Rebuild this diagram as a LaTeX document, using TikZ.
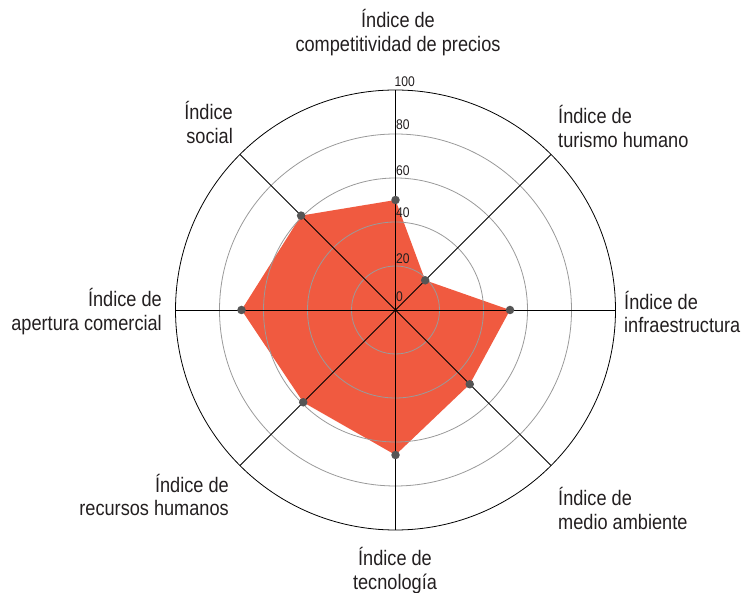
\documentclass[tikz,border=0pt]{standalone}
\usetikzlibrary{calc}
\usepackage{fontspec}
\setmainfont{Liberation Sans}[FakeStretch=0.865]
\definecolor{fillred}{HTML}{F05A40}
\definecolor{ringgray}{HTML}{9A9A9A}
\definecolor{dotgray}{HTML}{555555}
\definecolor{txt}{HTML}{231F20}
\begin{document}
\begin{tikzpicture}[x=1pt,y=1pt,
  axislabel/.style={font=\fontsize{21}{23.5}\selectfont, text=txt, inner sep=0pt},
  ticklabel/.style={font=\fontsize{14}{14}\selectfont, text=txt, inner sep=0pt, anchor=base west},
  ring/.style={draw=ringgray, line width=0.8pt},
  axisline/.style={draw=black, line width=0.8pt},
  datadot/.style={circle, fill=dotgray, inner sep=0pt, minimum size=8.5pt}]
\useasboundingbox (0,0) rectangle (742,592);
\coordinate (C) at (395.5,282);
% data polygon
\coordinate (v1) at ($(C)+(90:110)$);
\coordinate (v2) at ($(C)+(45:42)$);
\coordinate (v3) at ($(C)+(0:114.5)$);
\coordinate (v4) at ($(C)+(-45:105)$);
\coordinate (v5) at ($(C)+(-90:145)$);
\coordinate (v6) at ($(C)+(-135:130.5)$);
\coordinate (v7) at ($(C)+(180:154)$);
\coordinate (v8) at ($(C)+(135:133.5)$);
\fill[fillred] (v1) -- (v2) -- (v3) -- (v4) -- (v5) -- (v6) -- (v7) -- (v8) -- cycle;
% rings
\foreach \r in {44,88,132,176} { \draw[ring] (C) circle (\r); }
\draw[axisline] (C) circle (220);
% axes
\foreach \a in {0,45,...,315} { \draw[axisline] (C) -- ++(\a:220); }
% dots
\foreach \i in {1,...,8} { \node[datadot] (d\i) at (v\i) {}; }
% tick labels
\node[ticklabel] (t0) at (396,290.3) {0};
\node[ticklabel] (t20) at (396,328.7) {20};
\node[ticklabel] (t40) at (396,374.3) {40};
\node[ticklabel] (t60) at (396,416) {60};
\node[ticklabel] (t80) at (396,462) {80};
\node[ticklabel] (t100) at (394.5,505) {100};
% axis labels
\node[axislabel, align=center] (l1) at (398,559.3) {Índice de\\competitividad de precios};
\node[axislabel, align=left, anchor=west] (l2) at (558,465.6) {Índice de\\turismo humano};
\node[axislabel, align=left, anchor=west] (l3) at (624,280) {Índice de\\infraestructura};
\node[axislabel, align=left, anchor=west] (l4) at (558,83.7) {Índice de\\medio ambiente};
\node[axislabel, align=center] (l5) at (395,21.5) {Índice de\\tecnología};
\node[axislabel, align=right, anchor=east] (l6) at (229,97) {Índice de\\recursos humanos};
\node[axislabel, align=right, anchor=east] (l7) at (162,280.5) {Índice de\\apertura comercial};
\node[axislabel, align=right, anchor=east] (l8) at (233,469.3) {Índice\\social};
\end{tikzpicture}
\end{document}
